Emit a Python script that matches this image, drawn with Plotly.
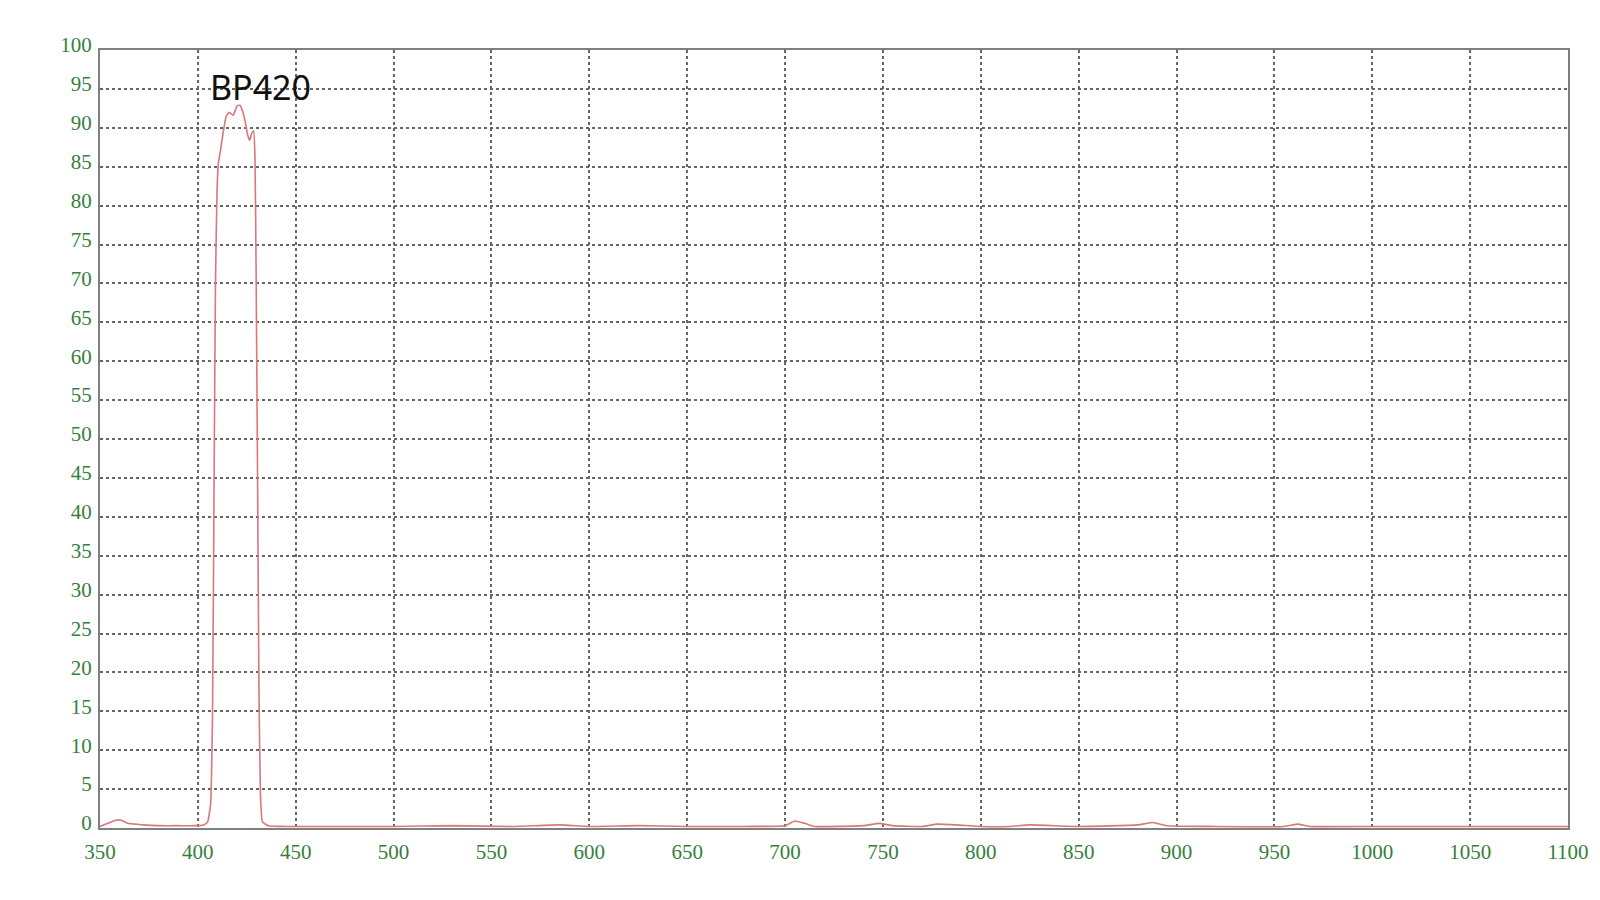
import plotly.graph_objects as go

# BP420 band-pass filter transmission curve
wavelength = [350, 354, 358, 361, 364, 368, 372, 380, 390, 398, 403, 405, 406.5, 407.5, 408.3,
              409, 409.8, 410.5, 411.5, 413, 414.5, 416, 418, 420, 421.5, 423, 424.5, 425.5,
              426.5, 427.5, 428.5, 429.2, 429.8, 430.5, 431.2, 432, 433, 436, 445, 470, 500,
              530, 560, 585, 600, 625, 650, 680, 700, 705, 710, 715, 740, 748, 755, 770, 778,
              800, 815, 825, 850, 880, 888, 895, 920, 955, 962, 968, 1000, 1050, 1100]
transmission = [0.2, 0.6, 1.0, 1.0, 0.6, 0.5, 0.4, 0.3, 0.3, 0.3, 0.4, 0.8, 3.0, 15.0, 45.0,
                70.0, 82.0, 85.5, 87.0, 89.5, 91.5, 92.0, 91.6, 92.8, 92.9, 92.0, 90.4, 89.0,
                88.4, 89.3, 89.6, 86.0, 70.0, 45.0, 18.0, 4.0, 0.8, 0.3, 0.2, 0.2, 0.2,
                0.3, 0.2, 0.4, 0.2, 0.3, 0.2, 0.2, 0.3, 0.9, 0.6, 0.2, 0.3, 0.6, 0.3, 0.2, 0.5,
                0.2, 0.2, 0.4, 0.2, 0.4, 0.7, 0.3, 0.2, 0.2, 0.5, 0.2, 0.2, 0.2, 0.2]

x_ticks = list(range(350, 1101, 50))
y_ticks = list(range(0, 101, 5))

fig = go.Figure()
fig.add_trace(go.Scatter(
    x=wavelength, y=transmission, mode="lines",
    line=dict(color="#d9777a", width=1.6, shape="spline", smoothing=0.4),
    showlegend=False,
))

fig.add_annotation(
    x=432, y=95.3, text="BP420", showarrow=False,
    font=dict(family="Noto Sans, Liberation Sans", size=34, color="#111111"),
)

axis_font = dict(family="Liberation Serif, DejaVu Serif", size=21, color="#357f3c")

fig.update_xaxes(
    range=[350, 1100], tickvals=x_ticks, ticks="", tickfont=axis_font,
    showgrid=True, gridcolor="#666666", griddash="dot", gridwidth=1.5,
    showline=True, linecolor="#808080", linewidth=2, mirror=True, zeroline=False,
    ticklabelstandoff=4,
)
fig.update_yaxes(
    range=[0, 100], tickvals=y_ticks, ticks="", tickfont=axis_font,
    showgrid=True, gridcolor="#666666", griddash="dot", gridwidth=1.5,
    showline=True, linecolor="#808080", linewidth=2, mirror=True, zeroline=False,
    ticklabelstandoff=2, ticklabelshift=-5,
)

fig.update_layout(
    width=1600, height=900,
    margin=dict(l=92, r=40, t=42, b=80),
    paper_bgcolor="white", plot_bgcolor="white",
)

fig.write_html("out.html")
